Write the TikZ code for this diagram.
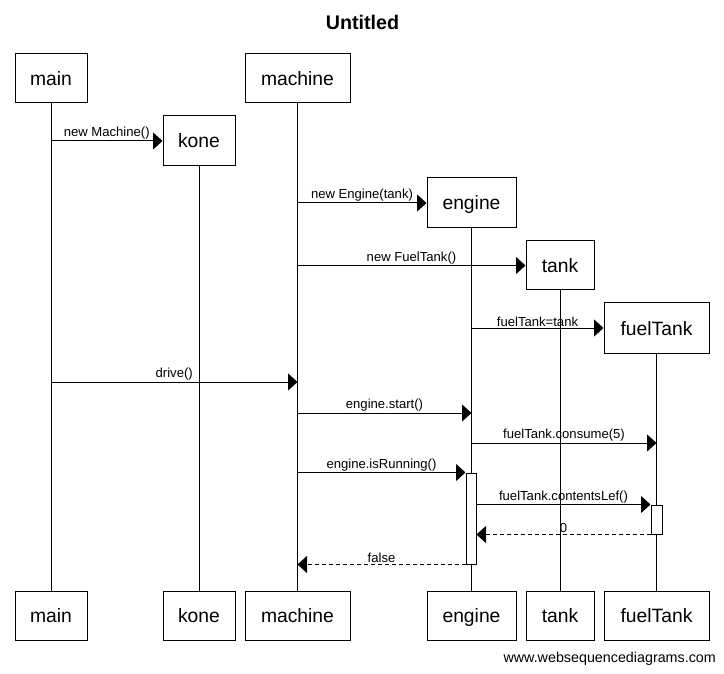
\documentclass[tikz,border=0pt]{standalone}
\usepackage{fontspec}
\setmainfont{Liberation Sans}
\usetikzlibrary{arrows.meta}
\begin{document}
\begin{tikzpicture}[x=1pt,y=-1pt,
  actor/.style={draw,line width=1pt,fill=white,minimum height=49pt,inner sep=0pt,text height=18pt,text depth=4pt,font=\fontsize{19.3}{19}\selectfont},
  life/.style={line width=1pt},
  msg/.style={line width=1pt,-{Triangle[length=9.5pt,width=17pt]}},
  ret/.style={msg,dash pattern=on 4pt off 3pt},
  lbl/.style={font=\fontsize{13.1}{13}\selectfont,inner sep=1pt,above},
  act/.style={draw,line width=1pt,fill=white,minimum width=10pt,inner sep=0pt}]
\useasboundingbox (0,0) rectangle (724,674);
\node[font=\bfseries\fontsize{19.7}{20}\selectfont] (title) at (362.5,22) {Untitled};
% top actors
\node[actor,minimum width=72pt] (mainT) at (51,78.5) {main};
\node[actor,minimum width=105pt] (machT) at (297.5,78.5) {machine};
\node[actor,minimum width=72pt,minimum height=50pt] (koneT) at (199,141) {kone};
\node[actor,minimum width=89pt,minimum height=50pt] (engT) at (471.5,203) {engine};
\node[actor,minimum width=68pt] (tankT) at (560,265.5) {tank};
\node[actor,minimum width=105pt,minimum height=50pt] (fuelT) at (656.5,328) {fuelTank};
% bottom actors
\node[actor,minimum width=72pt] (mainB) at (51,615.5) {main};
\node[actor,minimum width=72pt] (koneB) at (199,615.5) {kone};
\node[actor,minimum width=105pt] (machB) at (297.5,615.5) {machine};
\node[actor,minimum width=89pt] (engB) at (471.5,615.5) {engine};
\node[actor,minimum width=68pt] (tankB) at (560,615.5) {tank};
\node[actor,minimum width=105pt] (fuelB) at (656.5,615.5) {fuelTank};
% lifelines
\draw[life] (mainT.south) -- (mainB.north);
\draw[life] (koneT.south) -- (koneB.north);
\draw[life] (machT.south) -- (machB.north);
\draw[life] (engT.south) -- (engB.north);
\draw[life] (tankT.south) -- (tankB.north);
\draw[life] (fuelT.south) -- (fuelB.north);
% activations
\node[act,minimum height=91pt] (engA) at (471,518.5) {};
\node[act,minimum height=29pt,minimum width=11pt] (fuelA) at (656.5,519.5) {};
% messages
\draw[msg] (mainT.south |- koneT.west) -- node[lbl]{new Machine()} (koneT.west);
\draw[msg] (machT.south |- engT.west) -- node[lbl]{new Engine(tank)} (engT.west);
\draw[msg] (machT.south |- tankT.west) -- node[lbl]{new FuelTank()} (tankT.west);
\draw[msg] (engT.south |- fuelT.west) -- node[lbl]{fuelTank=tank} (fuelT.west);
\coordinate (yDrive) at (0,382);
\coordinate (yStart) at (0,413);
\coordinate (yCons) at (0,443);
\draw[msg] (mainT.south |- yDrive) -- node[lbl]{drive()} (machT.south |- yDrive);
\draw[msg] (machT.south |- yStart) -- node[lbl]{engine.start()} (engT.south |- yStart);
\draw[msg] (engT.south |- yCons) -- node[lbl]{fuelTank.consume(5)} (fuelT.south |- yCons);
\draw[msg] (machT.south |- engA.north west) -- node[lbl]{engine.isRunning()} (engA.north west);
\draw[msg] (engA.east |- fuelA.north west) -- node[lbl]{fuelTank.contentsLef()} (fuelA.north west);
\draw[ret] (fuelA.south west) -- node[lbl]{0} (engA.east |- fuelA.south west);
\draw[ret] (engA.south west) -- node[lbl]{false} (machT.south |- engA.south west);
\node[anchor=east,inner sep=0pt,font=\fontsize{14.3}{14}\selectfont] (footer) at (716,659) {www.websequencediagrams.com};
\end{tikzpicture}
\end{document}
